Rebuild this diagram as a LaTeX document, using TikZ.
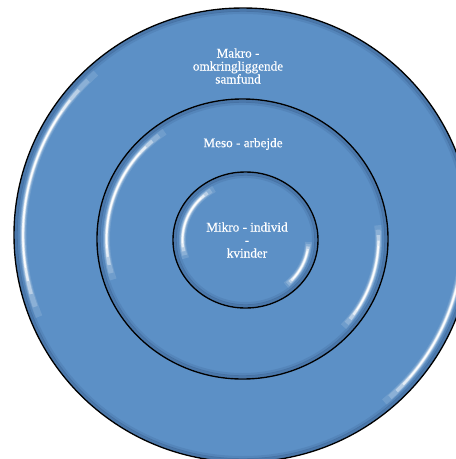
\documentclass[tikz,border=0pt]{standalone}
\usepackage{fontspec}
\setmainfont{Liberation Serif}
\newfontfamily\lblfont{Liberation Serif}[FakeBold=0.35]
\usetikzlibrary{shapes.geometric}
\definecolor{ringblue}{RGB}{92,144,198}
\definecolor{ringdark}{RGB}{55,92,140}
\newcommand\gloss[4]{% rx ry visual-start visual-end
  \pgfmathsetmacro\gmid{-(#3+#4)/2}%
  \pgfmathsetmacro\ghalf{abs(#4-#3)/2}%
  \foreach \w/\o/\f in {7/0.12/1.0, 5/0.2/0.92, 3.4/0.4/0.82, 2.2/0.65/0.72, 1.2/0.95/0.62}{%
    \pgfmathsetmacro\ga{\gmid-\ghalf*\f}%
    \pgfmathsetmacro\gb{\gmid+\ghalf*\f}%
    \draw[white, opacity=\o, line width=\w pt, line cap=butt]
      (\ga:#1 and #2) arc[start angle=\ga, end angle=\gb, x radius=#1, y radius=#2];
  }%
}
\newcommand\bevel[2]{%
  \draw[ringdark, opacity=.45, line width=3pt] (0,0) ellipse[x radius=#1-2.2, y radius=#2-2.2];
  \draw[ringdark, opacity=.2, line width=3pt] (0,0) ellipse[x radius=#1-4.5, y radius=#2-4.5];
}
\begin{document}
\begin{tikzpicture}[x=1pt,y=-1pt,
  ring/.style={ellipse, draw=black, line width=1.4pt, fill=ringblue, inner sep=0pt},
  lbl/.style={text=white, font=\lblfont\fontsize{13.2}{13}\selectfont, align=center, inner sep=0pt}]
\useasboundingbox (0,0) rectangle (456,459);
\begin{scope}
\clip (0,0) rectangle (456,459);
% outer
\node[ring, minimum width=458pt, minimum height=454pt] (makro) at (243,235) {};
\begin{scope}[shift={(makro.center)}]
  \bevel{229}{227}
  \gloss{220}{218}{132}{202}
  \gloss{220}{218}{-50}{-2}
\end{scope}
% middle
\node[ring, minimum width=291pt, minimum height=280pt] (meso) at (242.5,239) {};
\begin{scope}[shift={(meso.center)}]
  \bevel{145.5}{140}
  \gloss{136}{131}{125}{198}
  \gloss{136}{131}{-42}{6}
\end{scope}
% inner
\node[ring, minimum width=145pt, minimum height=136pt] (mikro) at (245.5,240) {};
\begin{scope}[shift={(mikro.center)}]
  \bevel{72.5}{68}
  \gloss{63}{59}{120}{198}
  \gloss{63}{59}{-50}{-2}
\end{scope}
\end{scope}
\node[lbl] (tmakro) at (238,66) {Makro -\\omkringliggende\\samfund};
\node[lbl] (tmeso) at (243,144) {Meso - arbejde};
\node[lbl] (tmikro) at (247,240) {Mikro - individ\\-\\kvinder};
\end{tikzpicture}
\end{document}
